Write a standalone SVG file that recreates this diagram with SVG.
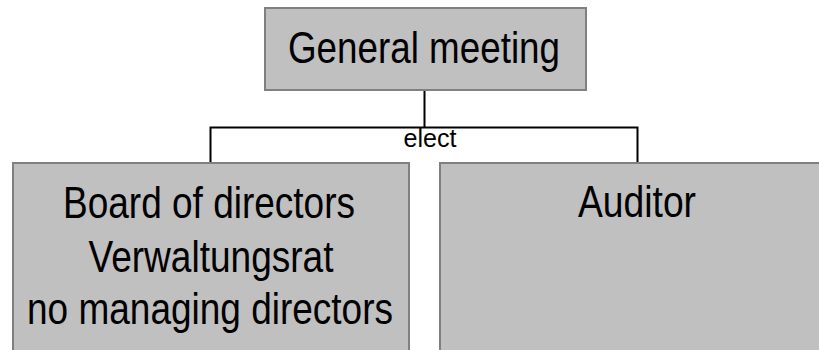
<svg xmlns="http://www.w3.org/2000/svg" width="819" height="350" viewBox="0 0 819 350">
<style>
.box{fill:#c0c0c0;stroke:#808080;stroke-width:2}
.t{font-family:"Liberation Sans",Arial,sans-serif;font-size:44px;fill:#000;text-anchor:middle}
.lbl{font-family:"Liberation Sans",Arial,sans-serif;font-size:25px;fill:#000;text-anchor:middle}
.conn{fill:none;stroke:#000;stroke-width:2}
</style>
<rect x="0" y="0" width="819" height="350" fill="#fff"/>
<g id="connectors">
<path class="conn" d="M424.5 90 V127.5 M210.5 163 V127.5 H637.5 V163"/>
<text class="lbl" x="430" y="147" textLength="53" lengthAdjust="spacingAndGlyphs">elect</text>
</g>
<g id="general-meeting">
<rect class="box" x="265" y="8" width="321" height="82"/>
<text class="t" x="424" y="63" textLength="272" lengthAdjust="spacingAndGlyphs">General meeting</text>
</g>
<g id="board">
<rect class="box" x="13" y="163" width="396" height="200"/>
<text class="t" x="209" y="218" textLength="292" lengthAdjust="spacingAndGlyphs">Board of directors</text>
<text class="t" x="211" y="272" textLength="245" lengthAdjust="spacingAndGlyphs">Verwaltungsrat</text>
<text class="t" x="210" y="324" textLength="366" lengthAdjust="spacingAndGlyphs">no managing directors</text>
</g>
<g id="auditor">
<rect class="box" x="440" y="163" width="394" height="200"/>
<text class="t" x="637" y="217" textLength="118" lengthAdjust="spacingAndGlyphs">Auditor</text>
</g>
</svg>
